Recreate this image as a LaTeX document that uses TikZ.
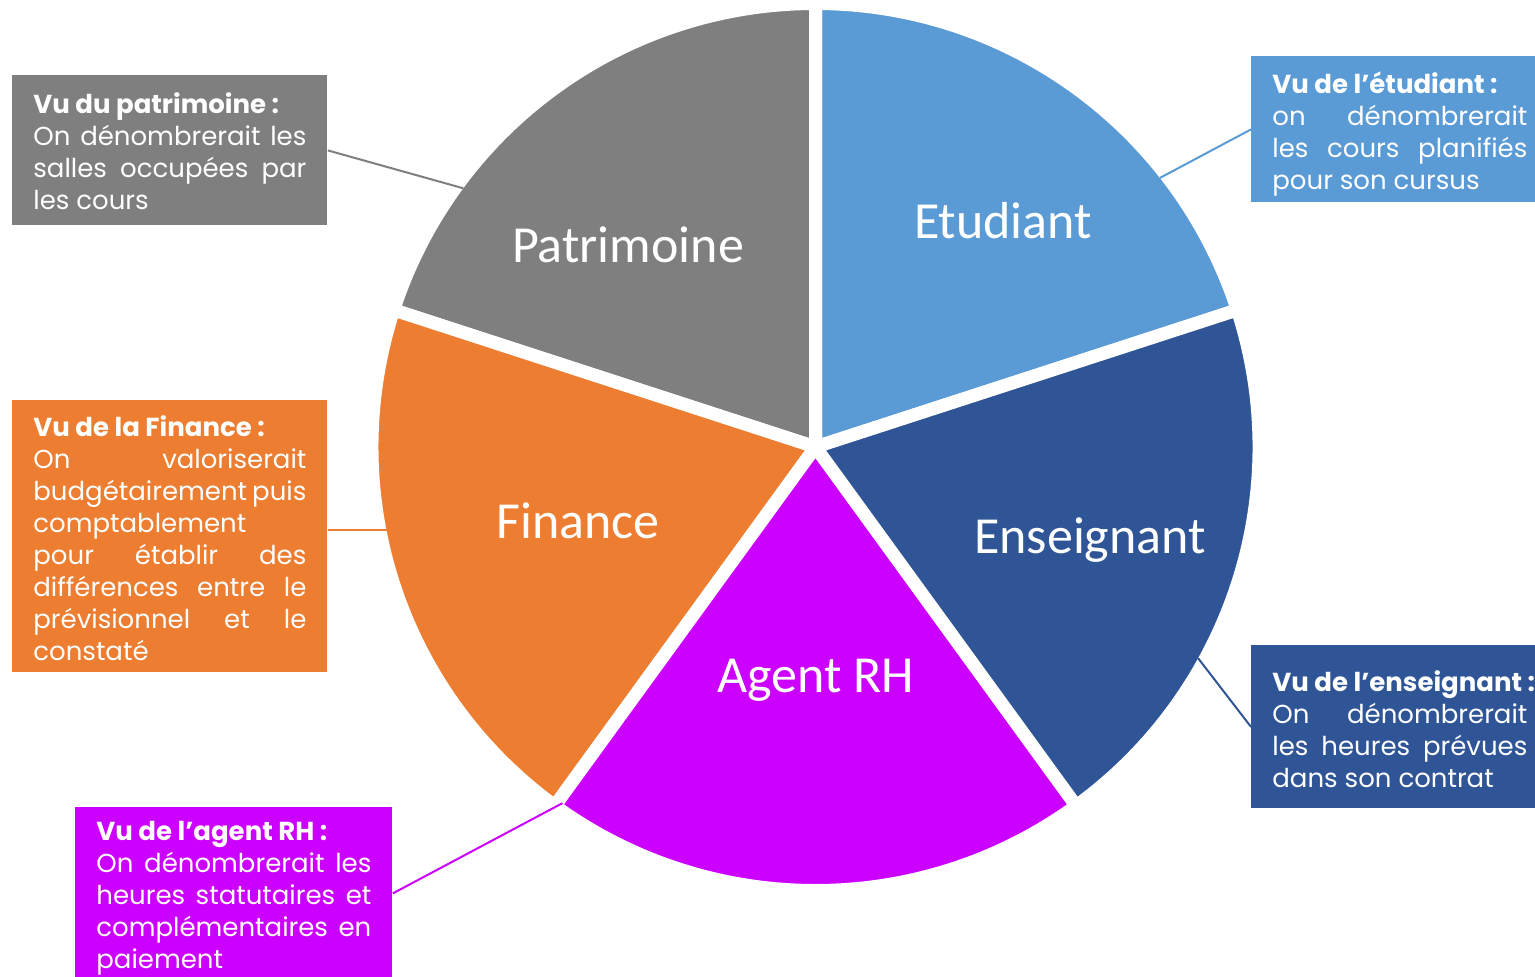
\documentclass[tikz,border=0pt]{standalone}
\usepackage{fontspec}
\setmainfont{Poppins}
\newfontfamily\slicefont{Carlito}
\usetikzlibrary{calc}
\definecolor{etublue}{HTML}{5B9BD5}
\definecolor{ensblue}{HTML}{2F5597}
\definecolor{agtpink}{HTML}{CC00FF}
\definecolor{finorange}{HTML}{ED7D31}
\definecolor{patgrey}{HTML}{7F7F7F}
\def\pieslice[#1](#2)(#3:#4:#5){\filldraw[#1, draw=white, line width=6.5pt, line join=miter] (#2) -- ($(#2)+(#3:#5)$) arc (#3:#4:#5) -- cycle;}
\newcommand\viewtext[4]{\parbox[c][#1][t]{#2}{\vspace*{#3}#4}}

\begin{document}
\begin{tikzpicture}[x=0.5pt, y=0.5pt,
	viewbox/.style={anchor=north west, inner xsep=10.5pt, inner ysep=0pt, text=white, font=\fontsize{13}{16}\selectfont},
	slicelabel/.style={anchor=base, text=white, font=\slicefont\fontsize{26}{30}\selectfont},
	connector/.style={line width=1pt}]
		%%%%% START %%%%%
		
		\useasboundingbox (0, 0) rectangle (1535, 976);
		\coordinate (c) at (815.5, 529);
		
		% pie
		\pieslice[fill=etublue](c)(18:90:443.5);
		\pieslice[fill=patgrey](c)(90:162:443.5);
		\pieslice[fill=finorange](c)(162:234:443.5);
		\pieslice[fill=agtpink](c)(234:306:443.5);
		\pieslice[fill=ensblue](c)(-54:18:443.5);
		
		\node[slicelabel] (etulabel) at (1003, 737) {Etudiant};
		\node[slicelabel] (patlabel) at (628, 713) {Patrimoine};
		\node[slicelabel] (finlabel) at (578, 438) {Finance};
		\node[slicelabel] (agtlabel) at (816, 284) {Agent RH};
		\node[slicelabel] (enslabel) at (1090, 423) {Enseignant};
		
		% boxes
		\node[viewbox, fill=patgrey] (pat) at (12, 901) {\viewtext{75pt}{136.5pt}{8.5pt}{\textbf{Vu du patrimoine :}\\
			On dénombrerait les\linebreak salles occupées par\linebreak les cours}};
		\node[viewbox, fill=etublue] (etu) at (1251, 920) {\viewtext{73pt}{127.5pt}{7.5pt}{\textbf{Vu de l’étudiant :}\\
			on dénombrerait\linebreak les cours planifiés\linebreak pour son cursus}};
		\node[viewbox, fill=finorange] (fin) at (12, 576) {\viewtext{136pt}{136.5pt}{7.5pt}{\textbf{Vu de la Finance :}\\
			On valoriserait\linebreak budgétairement puis\linebreak comptablement\newline pour établir des\linebreak différences entre le\linebreak prévisionnel et le\linebreak constaté}};
		\node[viewbox, fill=ensblue] (ens) at (1251, 331) {\viewtext{81.5pt}{127.5pt}{12.5pt}{\mbox{\textbf{Vu de l’enseignant :}}\\
			On dénombrerait\linebreak les heures prévues\linebreak dans son contrat}};
		\node[viewbox, fill=agtpink] (agt) at (75, 169) {\viewtext{86pt}{137.5pt}{7pt}{\textbf{Vu de l’agent RH :}\\
			On dénombrerait les\linebreak heures statutaires et\linebreak complémentaires en\linebreak paiement}};
		
		% connectors
		\coordinate (patend) at ($(c)+(143.7:437)$);
		\coordinate (etuend) at ($(c)+(38:437)$);
		\coordinate (finend) at ($(c)+(191:437)$);
		\coordinate (ensend) at ($(c)+(-28.9:437)$);
		\coordinate (agtend) at ($(c)+(-125.4:437)$);
		
		\draw[connector, patgrey] (pat.east) -- (patend);
		\draw[connector, etublue] (etu.west) -- (etuend);
		\draw[connector, finorange] (fin.east |- finend) -- (finend);
		\draw[connector, ensblue] (ens.west) -- (ensend);
		\draw[connector, agtpink] (agt.east) -- (agtend);
		
		%%%%% END %%%%%
\end{tikzpicture}
\end{document}
